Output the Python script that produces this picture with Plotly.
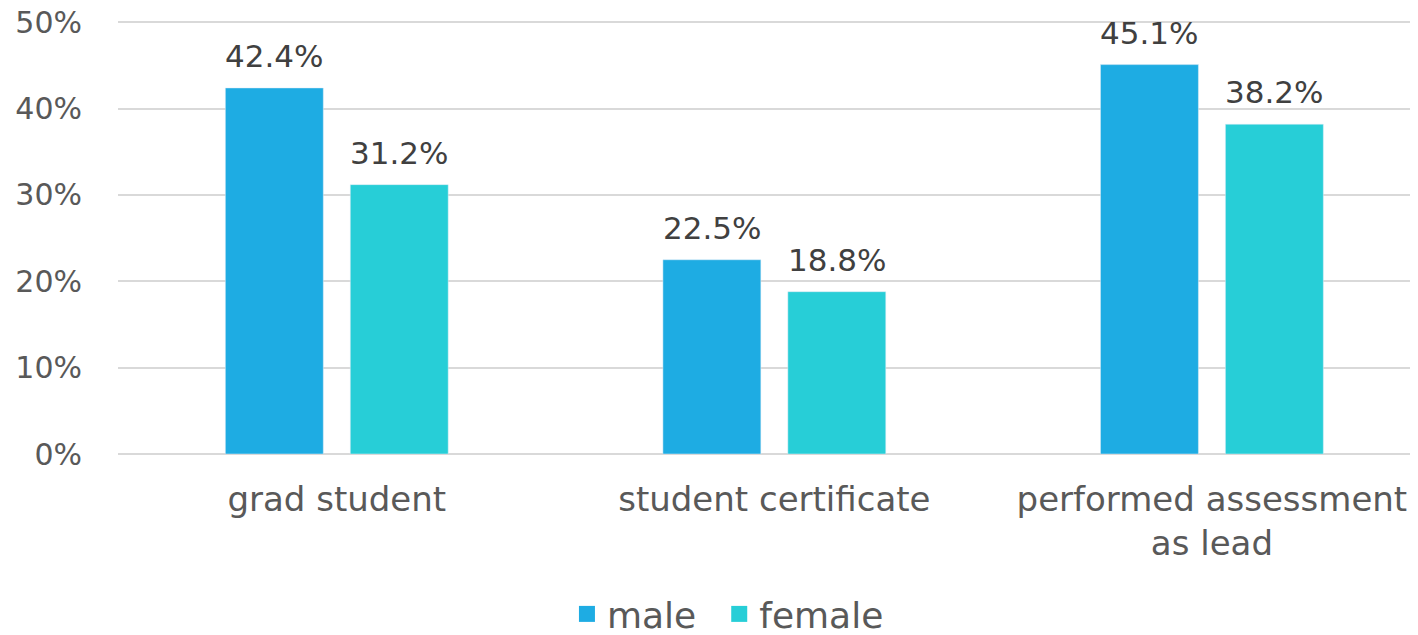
import plotly.graph_objects as go

categories = ["grad student", "student certificate", "performed assessment<br>as lead"]
male = [0.424, 0.225, 0.451]
female = [0.312, 0.188, 0.382]
y_ticks = [0, 0.1, 0.2, 0.3, 0.4, 0.5]
y_tick_labels = ["0%", "10%", "20%", "30%", "40%", "50%"]

FONT = "DejaVu Sans"
MALE_C = "#1EACE3"
FEMALE_C = "#27CED7"

fig = go.Figure()
fig.add_trace(go.Bar(name="male", x=categories, y=male, marker_color=MALE_C,
                     showlegend=False, hoverinfo="x+y"))
fig.add_trace(go.Bar(name="female", x=categories, y=female, marker_color=FEMALE_C,
                     showlegend=False, hoverinfo="x+y"))

# legend entries with larger square swatches
fig.add_trace(go.Scatter(name="male\u2002", x=[None], y=[None], mode="markers",
                         marker=dict(symbol="square", size=20, color=MALE_C)))
fig.add_trace(go.Scatter(name="female", x=[None], y=[None], mode="markers",
                         marker=dict(symbol="square", size=20, color=FEMALE_C)))

# data labels above each bar
for vals, shift in ((male, -62.5), (female, 62.5)):
    for c, v in zip(categories, vals):
        fig.add_annotation(x=c, y=v, text=f"{v*100:.1f}%", showarrow=False,
                           xshift=shift, yshift=12, yanchor="bottom",
                           font=dict(family=FONT, size=31, color="#404040"))

fig.update_layout(
    width=1410, height=627,
    margin=dict(l=110, r=0, t=10, b=181),
    paper_bgcolor="white", plot_bgcolor="white",
    barmode="group", bargap=0.429, bargroupgap=0.216,
    font=dict(family=FONT, size=34, color="#595959"),
    showlegend=True,
    legend=dict(orientation="h", x=0.5106, xref="container", xanchor="center",
                y=0.0335, yref="container", yanchor="middle",
                font=dict(family=FONT, size=36, color="#595959"),
                itemwidth=30, traceorder="normal", tracegroupgap=0),
)
fig.update_xaxes(
    type="category", range=[-0.5, 2.471], showgrid=False, showline=False,
    ticks="", tickfont=dict(family=FONT, size=34, color="#595959"),
    ticklabelstandoff=22, automargin=False,
)
fig.update_yaxes(
    range=[0, 0.505], tickvals=y_ticks, ticktext=y_tick_labels,
    showgrid=True, gridcolor="#D9D9D9", gridwidth=1.5,
    zeroline=True, zerolinecolor="#D9D9D9", zerolinewidth=1.5,
    showline=False, ticks="", tickfont=dict(family=FONT, size=30, color="#595959"),
    ticklabelstandoff=35, automargin=False, ticklabeloverflow="allow",
)

fig.write_html("out.html")
